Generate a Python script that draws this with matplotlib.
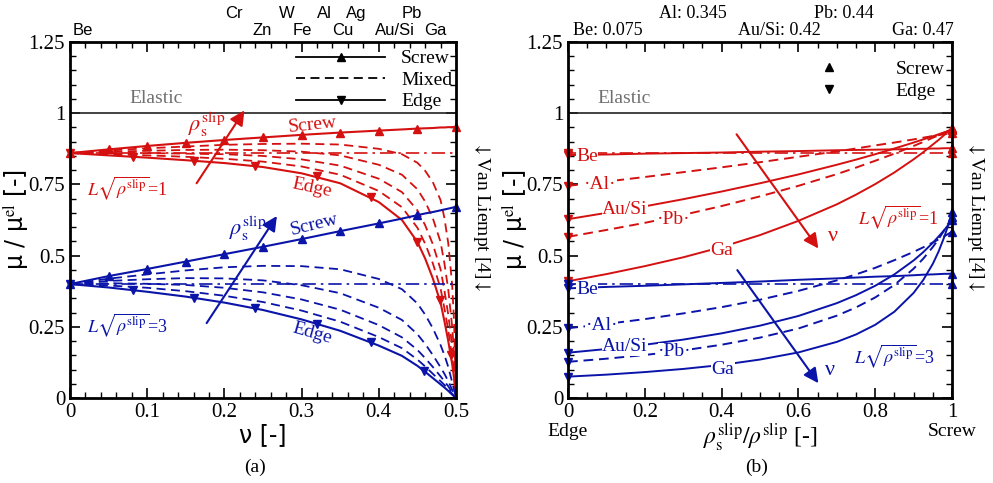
#import libraries
import matplotlib
matplotlib.use('Agg')
import matplotlib.pyplot as plt
from matplotlib.lines import Line2D
from matplotlib.ticker import MultipleLocator

plt.rcParams['font.family'] = ['Liberation Serif', 'DejaVu Serif']
plt.rcParams['mathtext.fontset'] = 'stix'

red = '#d41010'
blue = '#0a14a8'

#(a) poisson ratio vs relative shear modulus
nu = [0, 0.05, 0.1, 0.15, 0.2, 0.25, 0.3, 0.35, 0.4, 0.43, 0.45, 0.46, 0.47, 0.48, 0.485, 0.49, 0.495, 0.4975, 0.5]

red_screw = [0.860, 0.873, 0.885, 0.896, 0.906, 0.915, 0.924, 0.932, 0.939, 0.943, 0.946, 0.947, 0.948, 0.950, 0.950, 0.951, 0.951, 0.952, 0.952]
red_edge = [0.860, 0.852, 0.844, 0.835, 0.825, 0.811, 0.789, 0.754, 0.688, 0.625, 0.548, 0.490, 0.420, 0.335, 0.270, 0.200, 0.120, 0.070, 0.0]
red_mix20 = [0.860, 0.856, 0.852, 0.847, 0.840, 0.830, 0.813, 0.784, 0.727, 0.670, 0.598, 0.542, 0.473, 0.385, 0.315, 0.238, 0.145, 0.086, 0.0]
red_mix40 = [0.860, 0.860, 0.860, 0.858, 0.856, 0.850, 0.838, 0.816, 0.770, 0.723, 0.659, 0.607, 0.540, 0.452, 0.378, 0.292, 0.185, 0.111, 0.0]
red_mix60 = [0.860, 0.865, 0.868, 0.871, 0.872, 0.870, 0.865, 0.852, 0.819, 0.784, 0.733, 0.690, 0.631, 0.548, 0.473, 0.380, 0.252, 0.158, 0.0]
red_mix80 = [0.860, 0.869, 0.877, 0.883, 0.889, 0.892, 0.893, 0.890, 0.875, 0.856, 0.826, 0.798, 0.758, 0.695, 0.632, 0.543, 0.399, 0.271, 0.0]

blue_screw = [0.400, 0.428, 0.453, 0.479, 0.505, 0.531, 0.558, 0.586, 0.613, 0.630, 0.642, 0.648, 0.653, 0.659, 0.662, 0.665, 0.668, 0.670, 0.671]
blue_edge = [0.400, 0.388, 0.373, 0.356, 0.335, 0.309, 0.276, 0.236, 0.184, 0.148, 0.113, 0.092, 0.070, 0.048, 0.037, 0.025, 0.012, 0.006, 0.0]
blue_mix20 = [0.400, 0.395, 0.387, 0.375, 0.359, 0.337, 0.307, 0.268, 0.214, 0.175, 0.135, 0.111, 0.085, 0.059, 0.046, 0.031, 0.015, 0.008, 0.0]
blue_mix40 = [0.400, 0.403, 0.401, 0.397, 0.387, 0.371, 0.346, 0.310, 0.256, 0.213, 0.169, 0.140, 0.109, 0.076, 0.059, 0.041, 0.020, 0.010, 0.0]
blue_mix60 = [0.400, 0.411, 0.417, 0.421, 0.420, 0.413, 0.396, 0.368, 0.317, 0.274, 0.224, 0.190, 0.151, 0.108, 0.085, 0.059, 0.029, 0.015, 0.0]
blue_mix80 = [0.400, 0.419, 0.434, 0.448, 0.459, 0.464, 0.463, 0.452, 0.418, 0.382, 0.332, 0.293, 0.245, 0.186, 0.151, 0.109, 0.056, 0.029, 0.0]

#markers on the edge curves
red_edge_mk_nu = [0.0, 0.081, 0.160, 0.240, 0.320, 0.390, 0.450, 0.479, 0.494]
red_edge_mk = [0.860, 0.847, 0.833, 0.815, 0.779, 0.706, 0.548, 0.344, 0.151]
blue_edge_mk_nu = [0.0, 0.081, 0.160, 0.240, 0.320, 0.390, 0.458]
blue_edge_mk = [0.400, 0.379, 0.352, 0.315, 0.260, 0.195, 0.095]

vanliempt_red = 0.86
vanliempt_blue = 0.40

#element labels on top of (a)
top_names = ['Be', 'Cr', 'Zn', 'W', 'Fe', 'Al', 'Cu', 'Ag', 'Au/Si', 'Pb', 'Ga']
top_pos = [0.016, 0.212, 0.249, 0.281, 0.301, 0.330, 0.353, 0.371, 0.421, 0.443, 0.473]
top_row = [0, 1, 0, 1, 0, 1, 0, 1, 0, 1, 0]

#(b) screw fraction vs relative shear modulus
frac = [0, 0.1, 0.2, 0.3, 0.4, 0.5, 0.6, 0.7, 0.75, 0.8, 0.85, 0.9, 0.925, 0.95, 0.965, 0.98, 0.99, 1.0]
red_be = [0.853, 0.855, 0.858, 0.860, 0.862, 0.865, 0.867, 0.870, 0.871, 0.872, 0.873, 0.875, 0.875, 0.876, 0.876, 0.877, 0.877, 0.877]
red_al = [0.745, 0.760, 0.776, 0.793, 0.810, 0.828, 0.847, 0.866, 0.876, 0.887, 0.897, 0.908, 0.914, 0.920, 0.923, 0.926, 0.929, 0.931]
red_ausi = [0.628, 0.650, 0.673, 0.698, 0.725, 0.754, 0.785, 0.819, 0.837, 0.856, 0.876, 0.897, 0.908, 0.919, 0.926, 0.933, 0.937, 0.942]
red_pb = [0.566, 0.590, 0.615, 0.643, 0.674, 0.708, 0.745, 0.786, 0.809, 0.833, 0.858, 0.885, 0.899, 0.914, 0.922, 0.932, 0.938, 0.944]
red_ga = [0.410, 0.435, 0.463, 0.494, 0.530, 0.572, 0.622, 0.680, 0.714, 0.751, 0.792, 0.838, 0.863, 0.890, 0.906, 0.924, 0.936, 0.948]
blue_be = [0.385, 0.390, 0.394, 0.399, 0.404, 0.409, 0.415, 0.420, 0.423, 0.426, 0.428, 0.431, 0.433, 0.434, 0.435, 0.436, 0.436, 0.437]
blue_al = [0.245, 0.260, 0.277, 0.297, 0.319, 0.345, 0.376, 0.413, 0.434, 0.457, 0.484, 0.513, 0.529, 0.546, 0.557, 0.568, 0.576, 0.584]
blue_ausi = [0.159, 0.172, 0.187, 0.205, 0.227, 0.254, 0.288, 0.333, 0.361, 0.394, 0.434, 0.483, 0.512, 0.545, 0.567, 0.590, 0.607, 0.625]
blue_pb = [0.127, 0.138, 0.151, 0.167, 0.187, 0.212, 0.244, 0.289, 0.318, 0.353, 0.397, 0.454, 0.489, 0.530, 0.558, 0.589, 0.612, 0.636]
blue_ga = [0.075, 0.082, 0.091, 0.102, 0.116, 0.135, 0.160, 0.197, 0.223, 0.257, 0.303, 0.369, 0.414, 0.471, 0.514, 0.566, 0.606, 0.653]

mat_names = ['Be', '·Al·', 'Au/Si', '·Pb·', 'Ga']
mat_styles = ['-', (0, (5, 3)), '-', (0, (5, 3)), '-']
red_lab_pos = [(0.049, 0.847), (0.083, 0.751), (0.148, 0.662), (0.274, 0.628), (0.400, 0.519)]
blue_lab_pos = [(0.049, 0.381), (0.088, 0.253), (0.148, 0.180), (0.279, 0.163), (0.403, 0.100)]

top_b_names = ['Be: 0.075', 'Al: 0.345', 'Au/Si: 0.42', 'Pb: 0.44', 'Ga: 0.47']
top_b_pos = [0.103, 0.324, 0.550, 0.719, 0.923]
top_b_row = [0, 1, 0, 1, 0]

dash = (0, (5, 3))
dashdot = (0, (8, 3, 1.5, 3))

fig = plt.figure(figsize=(9.93, 4.83), dpi=100)
ax1 = fig.add_axes([0.0705, 0.176, 0.3887, 0.737])
ax2 = fig.add_axes([0.572, 0.176, 0.3867, 0.737])

for ax in [ax1, ax2]:
    ax.set_ylim(0, 1.25)
    ax.yaxis.set_minor_locator(MultipleLocator(0.05))
    ax.tick_params(which='both', direction='in', top=True, right=True, labelsize=15)
    ax.tick_params(which='major', length=7, width=1.2)
    ax.tick_params(which='minor', length=4, width=1)
    ax.set_yticks([0, 0.25, 0.5, 0.75, 1, 1.25])
    ax.set_yticklabels(['0', '0.25', '0.5', '0.75', '1', '1.25'])
    for s in ax.spines.values():
        s.set_linewidth(2)
    ax.axhline(1, color='#222222', lw=1.2)
    ax.set_ylabel('μ / μ$^{\\rm el}$ [-]', fontsize=17, family=['DejaVu Sans'])
    ax.yaxis.set_label_coords(-0.10, 0.5)

#panel (a)
ax1.set_xlim(0, 0.5)
ax1.xaxis.set_minor_locator(MultipleLocator(0.02))
ax1.set_xticks([0, 0.1, 0.2, 0.3, 0.4, 0.5])
ax1.set_xticklabels(['0', '0.1', '0.2', '0.3', '0.4', '0.5'])

for c, screw, edge, mixes, vl, mk_nu, mk in [
        (red, red_screw, red_edge, [red_mix20, red_mix40, red_mix60, red_mix80], vanliempt_red, red_edge_mk_nu, red_edge_mk),
        (blue, blue_screw, blue_edge, [blue_mix20, blue_mix40, blue_mix60, blue_mix80], vanliempt_blue, blue_edge_mk_nu, blue_edge_mk)]:
    for m in mixes:
        ax1.plot(nu, m, color=c, lw=1.3, ls=dash)
    ax1.plot([0, 0.5], [vl, vl], color=c, lw=1.2, ls=dashdot)
    ax1.plot(nu, screw, color=c, lw=1.5, marker='^', ms=6, markevery=[0, 1, 2, 3, 4, 5, 6, 7, 8, 10, 18], clip_on=False)
    ax1.plot(nu, edge, color=c, lw=1.5)
    ax1.plot(mk_nu, mk, color=c, ls='none', marker='v', ms=6, clip_on=False)

ax1.text(0.112, 1.05, 'Elastic', color='#707070', fontsize=14, ha='center', va='center')

#legend
handles = [Line2D([], [], color='k', lw=1.3, marker='^', ms=6),
           Line2D([], [], color='k', lw=1.3, ls=dash),
           Line2D([], [], color='k', lw=1.3, marker='v', ms=6)]
ax1.legend(handles, ['Screw', 'Mixed', 'Edge'], loc='upper right', frameon=False, fontsize=14,
           handlelength=4.6, numpoints=1, labelspacing=0.2, borderaxespad=0.0, handletextpad=0.8,
           bbox_to_anchor=(1.01, 1.0))

#arrows and labels (a)
ax1.annotate('', xy=(0.226, 1.01), xytext=(0.164, 0.754),
             arrowprops=dict(arrowstyle='-|>', color=red, lw=1.5, mutation_scale=22, shrinkA=0, shrinkB=0))
ax1.text(0.177, 0.958, r'$\rho_{\rm s}^{\rm slip}$', color=red, fontsize=16, ha='center', va='center')
ax1.text(0.314, 0.958, 'Screw', color=red, fontsize=14, ha='center', va='center', rotation=6)
ax1.text(0.313, 0.737, 'Edge', color=red, fontsize=14, ha='center', va='center', rotation=-12)
ax1.text(0.022, 0.737, r'$L\sqrt{\rho^{\rm slip}}$=1', color=red, fontsize=13, ha='left', va='center')

ax1.annotate('', xy=(0.268, 0.639), xytext=(0.177, 0.263),
             arrowprops=dict(arrowstyle='-|>', color=blue, lw=1.5, mutation_scale=22, shrinkA=0, shrinkB=0))
ax1.text(0.230, 0.596, r'$\rho_{\rm s}^{\rm slip}$', color=blue, fontsize=16, ha='center', va='center')
ax1.text(0.317, 0.607, 'Screw', color=blue, fontsize=14, ha='center', va='center', rotation=14)
ax1.text(0.313, 0.228, 'Edge', color=blue, fontsize=14, ha='center', va='center', rotation=-16)
ax1.text(0.022, 0.256, r'$L\sqrt{\rho^{\rm slip}}$=3', color=blue, fontsize=13, ha='left', va='center')

for name, p, r in zip(top_names, top_pos, top_row):
    ax1.text(p, 1.031 + 0.048 * r, name, transform=ax1.get_xaxis_transform(), ha='center', va='center',
             fontsize=12, family=['Liberation Sans'])

ax1.text(1.067, 0.51, r'$\downarrow$Van Liempt [4]$\downarrow$', transform=ax1.transAxes, rotation=270,
         ha='center', va='center', fontsize=14)
ax1.set_xlabel('ν [-]', fontsize=17, family=['DejaVu Sans'], labelpad=1)

#panel (b)
ax2.set_xlim(0, 1)
ax2.xaxis.set_minor_locator(MultipleLocator(0.05))
ax2.set_xticks([0, 0.2, 0.4, 0.6, 0.8, 1])
ax2.set_xticklabels(['0', '0.2', '0.4', '0.6', '0.8', '1'])

for c, series, labpos, vl in [(red, [red_be, red_al, red_ausi, red_pb, red_ga], red_lab_pos, vanliempt_red),
                              (blue, [blue_be, blue_al, blue_ausi, blue_pb, blue_ga], blue_lab_pos, vanliempt_blue)]:
    ax2.plot([0, 1], [vl, vl], color=c, lw=1.2, ls=dashdot)
    ax2.plot([0], [vl], color=c, marker='v', ms=6, ls='none', clip_on=False)
    ax2.plot([1], [vl], color=c, marker='^', ms=6, ls='none', clip_on=False)
    for vals, st, name, lp in zip(series, mat_styles, mat_names, labpos):
        ax2.plot(frac, vals, color=c, lw=1.4, ls=st)
        ax2.plot([0], [vals[0]], color=c, marker='v', ms=6, ls='none', clip_on=False)
        ax2.plot([1], [vals[-1]], color=c, marker='^', ms=6, ls='none', clip_on=False)
        ax2.text(lp[0], lp[1], name, color=c, fontsize=14, ha='center', va='center',
                 bbox=dict(facecolor='white', edgecolor='none', pad=0.3))

ax2.text(0.146, 1.05, 'Elastic', color='#707070', fontsize=14, ha='center', va='center')

handles2 = [Line2D([], [], color='k', ls='none', marker='^', ms=6),
            Line2D([], [], color='k', ls='none', marker='v', ms=6)]
ax2.legend(handles2, ['Screw', 'Edge'], loc='upper right', frameon=False, fontsize=14,
           handlelength=5.2, numpoints=1, labelspacing=0.2, borderaxespad=0.0, handletextpad=0.8,
           bbox_to_anchor=(1.0, 0.97))

ax2.annotate('', xy=(0.652, 0.525), xytext=(0.439, 0.926),
             arrowprops=dict(arrowstyle='-|>', color=red, lw=1.5, mutation_scale=22, shrinkA=0, shrinkB=0))
ax2.text(0.691, 0.566, 'ν', color=red, fontsize=16, ha='center', va='center')
ax2.text(0.755, 0.636, r'$L\sqrt{\rho^{\rm slip}}$=1', color=red, fontsize=13, ha='left', va='center')
ax2.annotate('', xy=(0.652, 0.052), xytext=(0.441, 0.449),
             arrowprops=dict(arrowstyle='-|>', color=blue, lw=1.5, mutation_scale=22, shrinkA=0, shrinkB=0))
ax2.text(0.682, 0.098, 'ν', color=blue, fontsize=16, ha='center', va='center')
ax2.text(0.745, 0.145, r'$L\sqrt{\rho^{\rm slip}}$=3', color=blue, fontsize=13, ha='left', va='center')

for name, p, r in zip(top_b_names, top_b_pos, top_b_row):
    ax2.text(p, 1.031 + 0.048 * r, name, transform=ax2.get_xaxis_transform(), ha='center', va='center', fontsize=13)

ax2.text(1.06, 0.51, r'$\downarrow$Van Liempt [4]$\downarrow$', transform=ax2.transAxes, rotation=270,
         ha='center', va='center', fontsize=14)
ax2.set_xlabel(r'$\rho_{\rm s}^{\rm slip}/\rho^{\rm slip}$ [-]', fontsize=17, labelpad=0)
ax2.text(0, -0.095, 'Edge', transform=ax2.get_xaxis_transform(), ha='center', va='center', fontsize=14)
ax2.text(1, -0.095, 'Screw', transform=ax2.get_xaxis_transform(), ha='center', va='center', fontsize=14)

fig.text(0.257, 0.033, '(a)', ha='center', va='center', fontsize=14)
fig.text(0.762, 0.033, '(b)', ha='center', va='center', fontsize=14)

fig.savefig('out.png', dpi=100)
